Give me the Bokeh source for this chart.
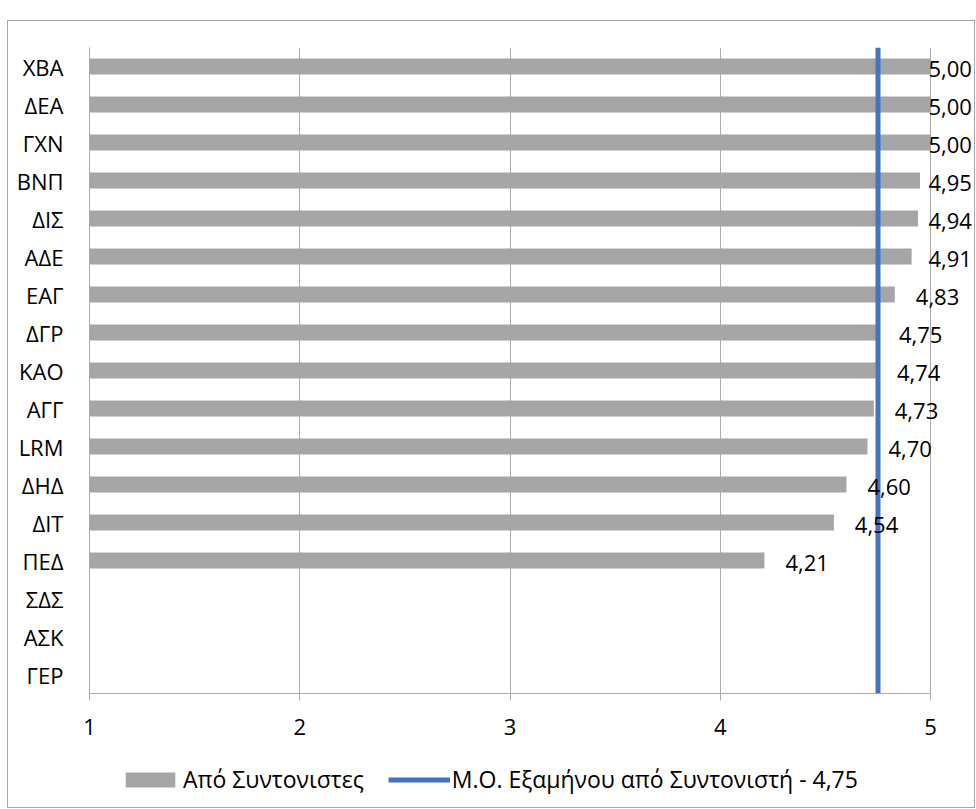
from bokeh.plotting import figure
from bokeh.models import (ColumnDataSource, FactorRange, Range1d, FixedTicker,
                          LabelSet, Legend, LegendItem, Spacer)
from bokeh.layouts import column, row
from bokeh.core.properties import value
from bokeh.embed import file_html
from bokeh.resources import INLINE

# ---------------- data ----------------
categories = ["ΧΒΑ", "ΔΕΑ", "ΓΧΝ", "ΒΝΠ", "ΔΙΣ", "ΑΔΕ", "ΕΑΓ", "ΔΓΡ", "ΚΑΟ",
              "ΑΓΓ", "LRM", "ΔΗΔ", "ΔΙΤ", "ΠΕΔ", "ΣΔΣ", "ΑΣΚ", "ΓΕΡ"]
bar_categories = ["ΧΒΑ", "ΔΕΑ", "ΓΧΝ", "ΒΝΠ", "ΔΙΣ", "ΑΔΕ", "ΕΑΓ", "ΔΓΡ", "ΚΑΟ",
                  "ΑΓΓ", "LRM", "ΔΗΔ", "ΔΙΤ", "ΠΕΔ"]
values = [5.00, 5.00, 5.00, 4.95, 4.94, 4.91, 4.83, 4.75, 4.74, 4.73, 4.70,
          4.60, 4.54, 4.21]
semester_avg = 4.75
x_ticks = [1, 2, 3, 4, 5]
series_name = "Από Συντονιστες"
avg_name_prefix = "Μ.Ο. Εξαμήνου από Συντονιστή - "

# ---------------- style ----------------
FONT = "Open Sans"
FS = "22px"
BAR_COLOR = "#A5A5A5"
LINE_COLOR = "#4472C4"
GRID_COLOR = "#ADADAD"
LABEL_CLAMP = 4.89    # keep value labels inside the chart box like the original
X_END = 5.209         # extra room right of the 5-line for the value labels

def fmt(v):
    return f"{v:.2f}".replace(".", ",")

src = ColumnDataSource(dict(
    cat=bar_categories,
    val=values,
    label=[fmt(v) for v in values],
    label_x=[min(v, LABEL_CLAMP) for v in values],
))

p = figure(width=966, height=739,
           x_range=Range1d(x_ticks[0], X_END),
           y_range=FactorRange(factors=list(reversed(categories))),
           output_backend="svg", toolbar_location=None,
           min_border_left=81, min_border_right=0,
           min_border_top=26, min_border_bottom=67)
p.outline_line_color = None

bars = p.hbar(y="cat", left=x_ticks[0], right="val", height=0.42,
              fill_color=BAR_COLOR, line_color=None, source=src)

line_src = ColumnDataSource(dict(
    x=[semester_avg],
    y0=[(categories[-1], -0.5)],
    y1=[(categories[0], 0.5)],
))
avg_line = p.segment(x0="x", y0="y0", x1="x", y1="y1", line_color=LINE_COLOR,
                     line_width=5, source=line_src)

labels = LabelSet(x="label_x", y="cat", text="label", source=src,
                  x_offset=21, y_offset=-2, text_align="left",
                  text_baseline="middle", text_font=value(FONT),
                  text_font_size=value(FS), text_color="#000000")
p.add_layout(labels)

# axes
xa = p.xaxis[0]
xa.ticker = FixedTicker(ticks=x_ticks)
xa.bounds = (x_ticks[0], x_ticks[-1])
xa.axis_line_color = GRID_COLOR
xa.major_tick_line_color = GRID_COLOR
xa.major_tick_out = 7
xa.major_tick_in = 0
xa.minor_tick_line_color = None
xa.major_label_text_font = FONT
xa.major_label_text_font_size = FS
xa.major_label_text_color = "#000000"
xa.major_label_standoff = 18

ya = p.yaxis[0]
ya.axis_line_color = GRID_COLOR
ya.major_tick_line_color = None
ya.major_tick_out = 0
ya.major_tick_in = 0
ya.minor_tick_line_color = None
ya.major_label_text_font = FONT
ya.major_label_text_font_size = FS
ya.major_label_text_color = "#000000"
ya.major_label_standoff = 26

p.xgrid.ticker = FixedTicker(ticks=x_ticks)
p.xgrid.grid_line_color = GRID_COLOR
p.ygrid.grid_line_color = None

# ---------------- legend strip (second figure, same styles) ----------------
lg = figure(width=966, height=47, x_range=Range1d(0, 1), y_range=Range1d(0, 1),
            x_axis_type=None, y_axis_type=None,
            output_backend="svg", toolbar_location=None, min_border=0)
lg.outline_line_color = None
lg.grid.visible = False
# key-only renderers: one hidden datum each (outside the strip's ranges)
key_bar = lg.hbar(y=[-5], left=[0], right=[0], height=0.42,
                  fill_color=BAR_COLOR, line_color=None)
key_line = lg.segment(x0=[-5], y0=[-5], x1=[-5], y1=[-5], line_color=LINE_COLOR,
                      line_width=5)
legend = Legend(items=[LegendItem(label=series_name, renderers=[key_bar]),
                       LegendItem(label=avg_name_prefix + fmt(semester_avg),
                                  renderers=[key_line])],
                orientation="horizontal", location=(30, 12),
                border_line_color=None, background_fill_alpha=0,
                padding=0, margin=0, spacing=24,
                glyph_width=62, glyph_height=19, label_standoff=2,
                label_text_font=FONT, label_text_font_size="23px",
                label_text_color="#000000", label_height=20)
lg.add_layout(legend)

box = column(p, lg, spacing=0)
box.styles = {"border": "1px solid #A6A6A6"}
layout = row(Spacer(width=7), column(Spacer(height=20), box, spacing=0), spacing=0)
open("out.html", "w").write(file_html(layout, INLINE))
